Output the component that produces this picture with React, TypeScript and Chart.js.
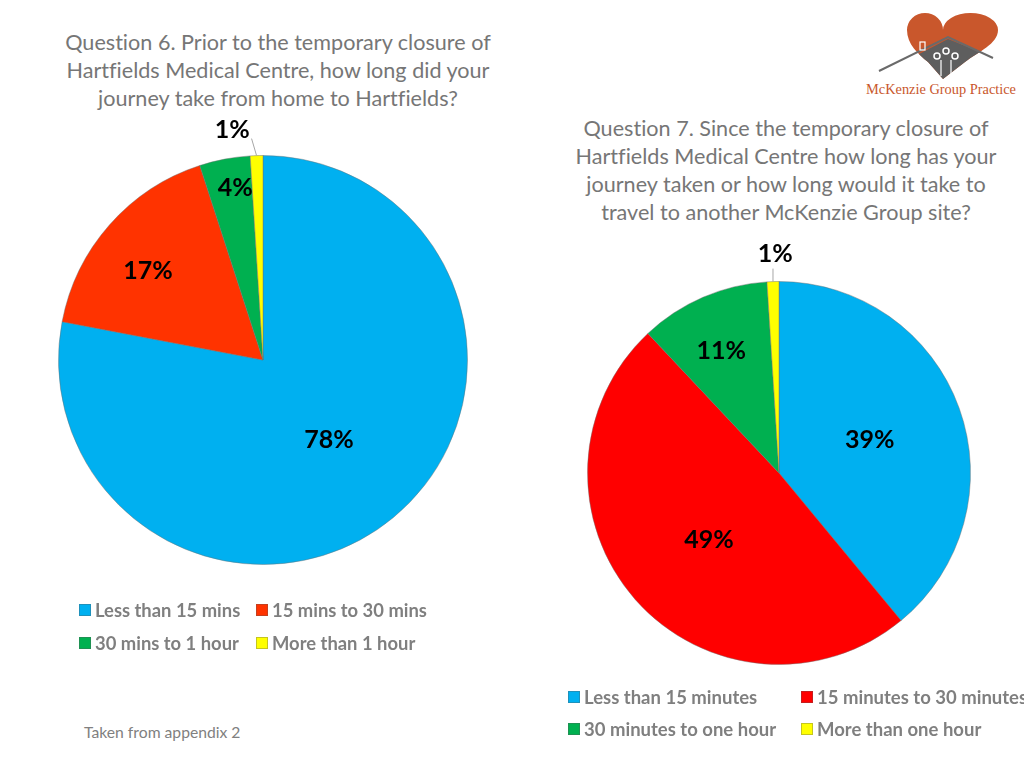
import React, { useEffect, useRef } from "react";
import { Chart, registerables } from "chart.js";

Chart.register(...registerables);

// ---- Data ----
const q6Title = [
  "Question 6. Prior to the temporary closure of",
  "Hartfields Medical Centre, how long did your",
  "journey take from home to Hartfields?",
];
const q6Categories = ["Less than 15 mins", "15 mins to 30 mins", "30 mins to 1 hour", "More than 1 hour"];
const q6Values = [78, 17, 4, 1];

const q7Title = [
  "Question 7. Since the temporary closure of",
  "Hartfields Medical Centre how long has your",
  "journey taken or how long would it take to",
  "travel to another McKenzie Group site?",
];
const q7Categories = ["Less than 15 minutes", "15 minutes to 30 minutes", "30 minutes to one hour", "More than one hour"];
const q7Values = [39, 49, 11, 1];

const footnote = "Taken from appendix 2";
const logoText = "McKenzie Group Practice";

// ---- Styles ----
const q6Colors = ["#00B0F0", "#FF3300", "#00B050", "#FFFF00"];
const q7Colors = ["#00B0F0", "#FF0000", "#00B050", "#FFFF00"];
const FONT = "Lato, 'Open Sans', sans-serif";

type LabelSpec = { frac: number; shift: number; leader?: [number, number] };

const sliceLabelPlugin = {
  id: "sliceLabels",
  afterDatasetsDraw(chart: any, _args: any, opts: any) {
    if (!opts || !opts.positions) return;
    const meta = chart.getDatasetMeta(0);
    const ds = chart.data.datasets[0];
    const ctx = chart.ctx;
    ctx.save();
    ctx.font = opts.font;
    ctx.fillStyle = opts.color;
    ctx.textAlign = "center";
    ctx.textBaseline = "middle";
    meta.data.forEach((arc: any, i: number) => {
      const p = arc.getProps(["x", "y", "startAngle", "endAngle", "outerRadius"], true);
      const spec: LabelSpec = opts.positions[i];
      const mid = (p.startAngle + p.endAngle) / 2;
      const a = mid + (spec.shift * Math.PI) / 180;
      const r = p.outerRadius * spec.frac;
      const lx = p.x + Math.cos(a) * r;
      const ly = p.y + Math.sin(a) * r;
      if (spec.leader) {
        const ex = p.x + Math.cos(mid) * p.outerRadius;
        const ey = p.y + Math.sin(mid) * p.outerRadius;
        ctx.beginPath();
        ctx.strokeStyle = "#A6A6A6";
        ctx.lineWidth = 1;
        ctx.moveTo(ex, ey);
        ctx.lineTo(ex + spec.leader[0], ey + spec.leader[1]);
        ctx.stroke();
      }
      ctx.fillText(ds.data[i] + "%", lx, ly);
    });
    ctx.restore();
  },
};

function PieCanvas(props: {
  values: number[];
  labels: string[];
  colors: string[];
  positions: LabelSpec[];
  padding: number;
  style: React.CSSProperties;
}) {
  const ref = useRef<HTMLCanvasElement>(null);
  useEffect(() => {
    const chart = new Chart(ref.current as HTMLCanvasElement, {
      type: "pie",
      data: {
        labels: props.labels,
        datasets: [
          {
            data: props.values,
            backgroundColor: props.colors,
            borderColor: "rgba(110,110,110,0.45)",
            borderWidth: 1,
          },
        ],
      },
      options: {
        animation: false,
        responsive: false,
        maintainAspectRatio: false,
        layout: { padding: props.padding },
        plugins: {
          legend: { display: false },
          tooltip: { enabled: false },
          sliceLabels: {
            font: `bold 25px ${FONT}`,
            color: "#000000",
            positions: props.positions,
          },
        } as any,
      },
      plugins: [sliceLabelPlugin],
    });
    return () => chart.destroy();
  }, []);
  const w = props.style.width as number;
  const h = props.style.height as number;
  return <canvas ref={ref} width={w} height={h} style={{ position: "absolute", ...props.style }} />;
}

function Legend(props: {
  labels: string[];
  colors: string[];
  left: number;
  top: number;
  colX: number[];
  rowY: number[];
  fontSize: number;
}) {
  return (
    <>
      {props.labels.map((lab, i) => {
        const col = i % 2;
        const row = Math.floor(i / 2);
        return (
          <div
            key={lab}
            style={{
              position: "absolute",
              left: props.left + props.colX[col],
              top: props.top + props.rowY[row],
              display: "flex",
              alignItems: "center",
              whiteSpace: "nowrap",
              fontFamily: FONT,
              fontWeight: 700,
              fontSize: props.fontSize,
              color: "#7F7F7F",
              lineHeight: "20px",
              height: 20,
            }}
          >
            <span
              style={{
                display: "inline-block",
                width: 12,
                height: 12,
                background: props.colors[i],
                border: "1px solid rgba(90,90,90,0.35)",
                marginRight: 4,
                boxSizing: "border-box",
              }}
            />
            {lab}
          </div>
        );
      })}
    </>
  );
}

function Title(props: { lines: string[]; cx: number; top: number }) {
  return (
    <div
      style={{
        position: "absolute",
        left: props.cx - 300,
        width: 600,
        top: props.top,
        textAlign: "center",
        fontFamily: FONT,
        fontSize: 21.6,
        lineHeight: "28px",
        color: "#767676",
        fontVariantLigatures: "none",
      }}
    >
      {props.lines.map((l) => (
        <div key={l}>{l}</div>
      ))}
    </div>
  );
}

function Logo() {
  const heart =
    "M943,30 A18,17 0 0 0 907,30 C907,44 918,54 928,62 L943,79 L965,62 C978,52 998,44 998,30 A27.5,17 0 0 0 943,30 Z";
  return (
    <svg
      width={164}
      height={90}
      viewBox="860 10 164 90"
      style={{ position: "absolute", left: 860, top: 10 }}
    >
      <defs>
        <clipPath id="heartClip">
          <path d={heart} />
        </clipPath>
      </defs>
      <path d={heart} fill="#C9572C" />
      <g clipPath="url(#heartClip)">
        <polygon points="948,39 900,64 943,95 1000,60" fill="#5E5E5E" />
      </g>
      <polyline points="879,71 948,37 993,58" fill="none" stroke="#6A6A6A" strokeWidth={2} />
      <rect x={920} y={42} width={5} height={8} fill="none" stroke="#fff" strokeWidth={1.2} />
      <circle cx={937} cy={56} r={3} fill="none" stroke="#fff" strokeWidth={1.5} />
      <circle cx={946} cy={51} r={3} fill="none" stroke="#fff" strokeWidth={1.5} />
      <circle cx={955} cy={56} r={3} fill="none" stroke="#fff" strokeWidth={1.5} />
      <line x1={941} y1={60} x2={941} y2={76} stroke="#fff" strokeWidth={1.2} />
      <line x1={951} y1={60} x2={951} y2={74} stroke="#fff" strokeWidth={1.2} />
      <text
        x={866}
        y={94}
        textLength={150}
        lengthAdjust="spacingAndGlyphs"
        fontFamily="'Liberation Serif', 'DejaVu Serif', serif"
        fontSize={15}
        fill="#C9572C"
      >
        {logoText}
      </text>
    </svg>
  );
}

export default function App() {
  return (
    <div
      style={{
        position: "fixed",
        left: 0,
        top: 0,
        width: 1024,
        height: 768,
        overflow: "hidden",
        background: "#ffffff",
      }}
    >
      <Title lines={q6Title} cx={278} top={28} />
      <Title lines={q7Title} cx={786} top={114} />
      <Logo />
      <PieCanvas
        values={q6Values}
        labels={q6Categories}
        colors={q6Colors}
        padding={35}
        style={{ left: 23, top: 110, width: 480, height: 500 }}
        positions={[
          { frac: 0.507, shift: 0 },
          { frac: 0.71, shift: -3.7 },
          { frac: 0.85, shift: 1.6 },
          { frac: 1.137, shift: -5.8, leader: [-5, -17] },
        ]}
      />
      <PieCanvas
        values={q7Values}
        labels={q7Categories}
        colors={q7Colors}
        padding={48}
        style={{ left: 539, top: 233, width: 480, height: 480 }}
        positions={[
          { frac: 0.504, shift: 0 },
          { frac: 0.505, shift: -2.3 },
          { frac: 0.703, shift: -2 },
          { frac: 1.146, shift: 0.8, leader: [0, -13] },
        ]}
      />
      <Legend
        labels={q6Categories}
        colors={q6Colors}
        left={79}
        top={600}
        colX={[0, 177]}
        rowY={[0, 33]}
        fontSize={18.4}
      />
      <Legend
        labels={q7Categories}
        colors={q7Colors}
        left={568}
        top={687}
        colX={[0, 233]}
        rowY={[0, 32]}
        fontSize={18.5}
      />
      <div
        style={{
          position: "absolute",
          left: 84,
          top: 723,
          fontFamily: FONT,
          fontSize: 15.7,
          color: "#808080",
          whiteSpace: "nowrap",
        }}
      >
        {footnote}
      </div>
    </div>
  );
}
